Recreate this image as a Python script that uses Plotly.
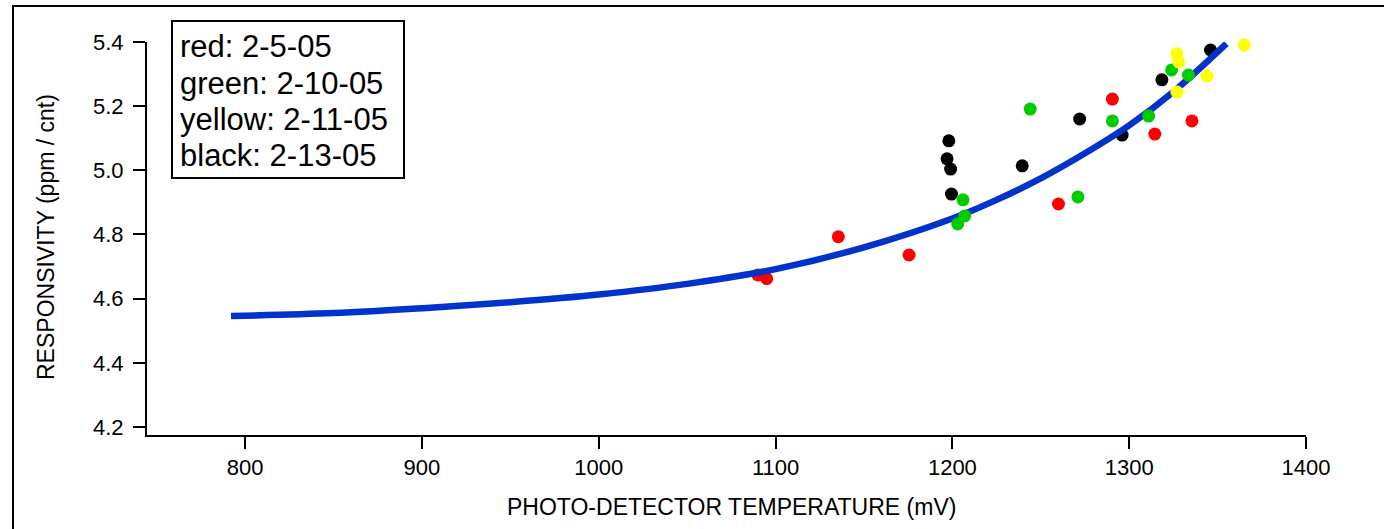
import plotly.graph_objects as go

# ---- data ----
red_x = [1090, 1095, 1135.5, 1175.5, 1260, 1290.5, 1314.5, 1335.5]
red_y = [4.674, 4.662, 4.793, 4.736, 4.895, 5.222, 5.113, 5.154]

green_x = [1206, 1207, 1203, 1271, 1244, 1290.5, 1311, 1324, 1333.5]
green_y = [4.908, 4.858, 4.833, 4.917, 5.191, 5.154, 5.169, 5.313, 5.297]

yellow_x = [1365, 1327, 1328, 1344, 1327]
yellow_y = [5.391, 5.363, 5.338, 5.294, 5.244]

black_x = [1198, 1197, 1199, 1199.5, 1239.5, 1272, 1296, 1318.5, 1346]
black_y = [5.092, 5.036, 5.004, 4.926, 5.014, 5.160, 5.110, 5.282, 5.375]

fit_x = [792, 850, 900, 950, 1000, 1050, 1100, 1150, 1200, 1225, 1250, 1275, 1300, 1325, 1355]
fit_y = [4.546, 4.555, 4.570, 4.589, 4.613, 4.646, 4.692, 4.760, 4.850, 4.908, 4.975, 5.053, 5.140, 5.245, 5.395]

x_ticks = [800, 900, 1000, 1100, 1200, 1300, 1400]
y_ticks = [4.2, 4.4, 4.6, 4.8, 5.0, 5.2, 5.4]

legend_lines = ["red: 2-5-05", "green: 2-10-05", "yellow: 2-11-05", "black: 2-13-05"]

FONT = "Liberation Sans, Arial, Helvetica, sans-serif"

fig = go.Figure()

def pts(x, y, color):
    fig.add_trace(go.Scatter(x=x, y=y, mode="markers",
                             marker=dict(size=13, color=color, line=dict(width=0)),
                             cliponaxis=False, showlegend=False, hoverinfo="x+y"))

pts(red_x, red_y, "#FF0000")
pts(black_x, black_y, "#000000")
fig.add_trace(go.Scatter(x=fit_x, y=fit_y, mode="lines",
                         line=dict(color="#0033CC", width=6.5, shape="spline", smoothing=1.0),
                         cliponaxis=False, showlegend=False))
pts(green_x, green_y, "#00CC00")
pts(yellow_x, yellow_y, "#FFFF00")

axis_common = dict(showgrid=False, zeroline=False, showline=True, linecolor="black",
                   linewidth=2, ticks="outside", ticklen=12, tickwidth=2, tickcolor="black",
                   tickfont=dict(family=FONT, size=22, color="black"))

fig.update_xaxes(range=[744.5, 1400], tickvals=x_ticks, ticktext=[str(v) for v in x_ticks],
                 **axis_common)
fig.update_yaxes(range=[4.175, 5.4], tickvals=y_ticks, ticktext=[f"{v:.1f}" for v in y_ticks],
                 ticklabelstandoff=5, **axis_common)

W, H = 1384, 529
L, R, T, B = 147, 78, 42, 94
pw, ph = W - L - R, H - T - B

def px(xp):
    return (xp - L) / pw

def py(yp):
    return (H - B - yp) / ph

shapes = [
    # outer frame (runs off right / bottom edges)
    dict(type="rect", xref="paper", yref="paper", x0=px(13), x1=px(1392), y0=py(540), y1=py(6),
         line=dict(color="black", width=2), fillcolor="rgba(0,0,0,0)"),
    # legend box
    dict(type="rect", xref="paper", yref="paper", x0=px(172), x1=px(404), y0=py(178), y1=py(21),
         line=dict(color="black", width=2), fillcolor="white"),
]

annotations = []
row_y = [47, 83, 119, 155]
for txt, yy in zip(legend_lines, row_y):
    annotations.append(dict(text=txt, xref="paper", yref="paper", x=px(178), y=py(yy),
                            xanchor="left", yanchor="middle", showarrow=False,
                            font=dict(family=FONT, size=31, color="black")))

annotations.append(dict(text="PHOTO-DETECTOR TEMPERATURE (mV)", xref="paper", yref="paper",
                        x=px(731), y=py(507), xanchor="center", yanchor="middle", showarrow=False,
                        font=dict(family=FONT, size=23, color="black")))
annotations.append(dict(text="RESPONSIVITY (ppm / cnt)", xref="paper", yref="paper",
                        x=px(46), y=py(237), xanchor="center", yanchor="middle", showarrow=False,
                        textangle=-90, font=dict(family=FONT, size=23, color="black")))

fig.update_layout(width=W, height=H, margin=dict(l=L, r=R, t=T, b=B, autoexpand=False),
                  paper_bgcolor="white", plot_bgcolor="white", showlegend=False,
                  shapes=shapes, annotations=annotations,
                  font=dict(family=FONT, color="black"))

fig.write_html("out.html")
